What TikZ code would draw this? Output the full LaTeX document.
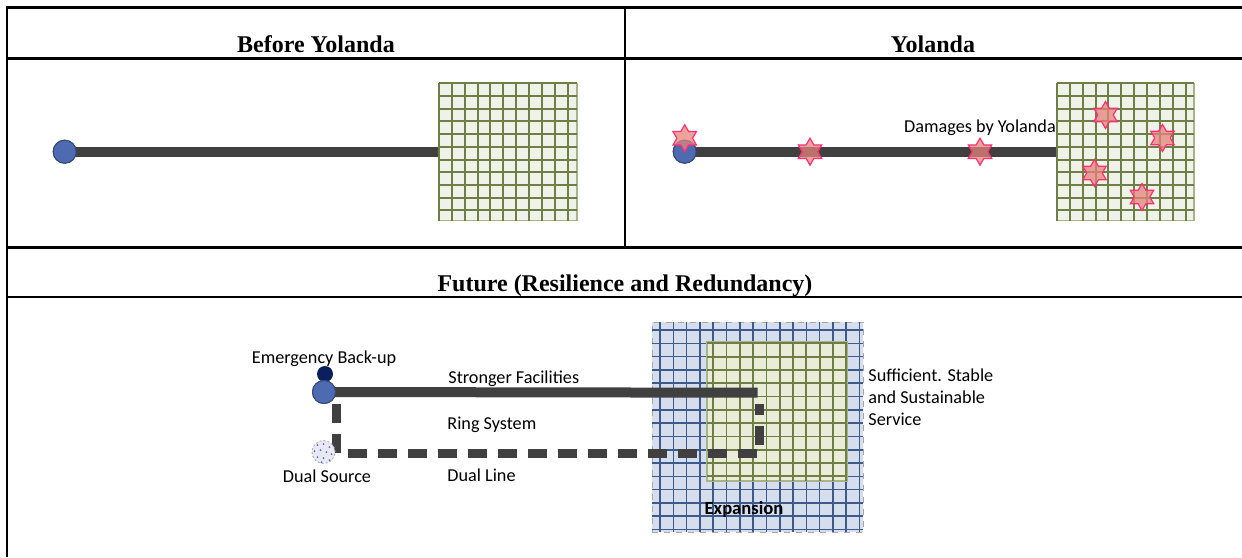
\documentclass[tikz,border=0pt]{standalone}
\usepackage{fontspec}
\setmainfont{Liberation Serif}
\newfontfamily\carl{Carlito}
\usetikzlibrary{shapes.geometric,calc}
\definecolor{powerline}{HTML}{404040}
\definecolor{srcblue}{HTML}{4E6AB0}
\definecolor{srcedge}{HTML}{34487A}
\definecolor{navy}{HTML}{0B1F5C}
\definecolor{gfill}{HTML}{EFF2E8}
\definecolor{gline}{HTML}{6E7E45}
\definecolor{gedge}{HTML}{A9B38A}
\definecolor{bfill}{HTML}{D6DDEC}
\definecolor{bline}{HTML}{3D5B8A}
\definecolor{ifill}{HTML}{EEF1D2}
\definecolor{starfill}{HTML}{E5837C}
\definecolor{starline}{HTML}{FF2F73}
\definecolor{dualfill}{HTML}{E9E9F3}
\definecolor{dualdot}{HTML}{5A6AB8}
\tikzset{
  rule/.style={line width=1.2pt, black},
  hdr/.style={font=\fontsize{12}{14}\selectfont\bfseries, inner sep=0pt},
  lbl/.style={font=\carl\fontsize{9.1}{11}\selectfont, inner sep=0pt},
  power/.style={line width=5pt, powerline},
  ring/.style={line width=4.5pt, powerline, dash pattern=on 9.5pt off 5.5pt},
  src/.style={circle, fill=srcblue, draw=srcedge, line width=0.5pt, inner sep=0pt, minimum size=11.5pt},
  gbox/.style={rectangle, fill=gfill, draw=gedge, line width=0.6pt, inner sep=0pt},
  gl/.style={gline, line width=1pt},
  bl/.style={bline, line width=0.8pt},
  dmgpath/.style={fill=starfill, fill opacity=0.75, draw=starline, line width=0.6pt, line join=miter},
}
\newcommand\dmgstar[1]{%
  \draw[dmgpath, shift={(#1)}] (90:13.5) -- (120:7.8) -- (150:13.5) -- (180:7.8) -- (210:13.5)
    -- (240:7.8) -- (270:13.5) -- (300:7.8) -- (330:13.5) -- (0:7.8) -- (30:13.5) -- (60:7.8) -- cycle;}
\begin{document}
\begin{tikzpicture}[x=0.5pt,y=-0.5pt]
\useasboundingbox (0,0) rectangle (1242,557);
% table rules
\draw[rule] (7,6.9) -- (7,557);
\draw[rule] (6.4,7.5) -- (1242,7.5);
\draw[rule] (7,58.3) -- (1242,58.3);
\draw[rule] (7,247.3) -- (1242,247.3);
\draw[rule] (7,296.7) -- (1242,296.7);
\draw[rule] (625,7.5) -- (625,247.3);
% headers
\node[hdr, anchor=base] (h1) at (316,52.5) {Before Yolanda};
\node[hdr, anchor=base] (h2) at (933,52.5) {Yolanda};
\node[hdr, anchor=base] (h3) at (625,291) {Future (Resilience and Redundancy)};

% ---------- Before Yolanda ----------
\node[gbox, minimum width=69pt, minimum height=68.7pt] (g1) at (508,151.9) {};
\foreach \k in {0,...,10} {
  \draw[gl] ({439+12.85*\k},83.3) -- ({439+12.85*\k},220.5);
  \draw[gl] (439,{83.3+12.7*\k}) -- (577,{83.3+12.7*\k});
}
\node[src] (b1) at (64.7,151.7) {};
\draw[power] (b1.center) -- (g1.west |- b1.center);
\node[src] at (b1) {};

% ---------- Yolanda ----------
\node[gbox, minimum width=68.5pt, minimum height=68.7pt] (g2) at (1125.5,151.9) {};
\foreach \k in {0,...,10} {
  \draw[gl] ({1057+12.85*\k},83.3) -- ({1057+12.85*\k},220.5);
  \draw[gl] (1057,{83.3+12.7*\k}) -- (1194,{83.3+12.7*\k});
}
\node[src] (b2) at (684.7,151.7) {};
\draw[power] (b2.center) -- (g2.west |- b2.center);
\node[src] at (b2) {};
\node[lbl, anchor=base] (dmgl) at (980,132.7) {Damages by Yolanda};
\coordinate (s1) at (684.7,138.3);
\coordinate (s2) at (810,151.7);
\coordinate (s3) at (980,151.7);
\coordinate (s4) at (1105.5,115);
\coordinate (s5) at (1162.5,138);
\coordinate (s6) at (1094.5,173);
\coordinate (s7) at (1142,197);
\foreach \s in {s1,s2,s3,s4,s5,s6,s7} {\dmgstar{\s}}

% ---------- Future ----------
\node[rectangle, fill=bfill, draw=gray!70, dashed, line width=0.5pt, inner sep=0pt,
  minimum width=105.5pt, minimum height=105pt] (exp) at (757.5,427) {};
\foreach \k in {0,...,15} {
  \draw[bl] ({660+13.3*\k},322.3) -- ({660+13.3*\k},531.7);
  \draw[bl] (652.3,{330+13.3*\k}) -- (862.7,{330+13.3*\k});
}
\node[rectangle, fill=ifill, fill opacity=0.8, draw=gedge, line width=0.6pt, inner sep=0pt,
  minimum width=70pt, minimum height=69.5pt] (inner) at (777,411.5) {};
\begin{scope}
  \clip (707,342) rectangle (847,481);
  \foreach \k in {0,...,15} {
    \draw[gl, line width=0.9pt] ({660+13.3*\k},342) -- ({660+13.3*\k},481);
    \draw[gl, line width=0.9pt] (707,{330+13.3*\k}) -- (847,{330+13.3*\k});
  }
\end{scope}
\node[lbl, font=\carl\fontsize{9.3}{11}\selectfont\bfseries, anchor=base] (expl) at (744,514) {Expansion};

\coordinate (sfend) at (757.7,392.7);
\coordinate (rtl) at (336.5,404);
\coordinate (rbl) at (336.5,453);
\coordinate (rbr) at (759,453);
\coordinate (rtr) at (759,404);
\node[circle, fill=navy, inner sep=0pt, minimum size=8pt] (emg) at (325,374) {};
\node[src] (b3) at (324,392) {};
\draw[power] (b3.center) -- (sfend);
\draw[ring] (rtl) -- (rbl) -- (rbr) -- (rtr);
\node[src] at (b3) {};
\node[circle, fill=dualfill, draw=gray!60, dash pattern=on 1pt off 1pt, line width=0.5pt,
  inner sep=0pt, minimum size=11.5pt] (dual) at (323.5,452) {};
\foreach \dx/\dy in {-6/-7,0/-8,6/-5,-9/-1,-3/-2,3/0,8/2,-6/5,0/6,6/8,-2/10}
  \fill[dualdot] ($(dual.center)+(\dx,\dy)$) circle[radius=0.5pt];

\node[lbl, anchor=base] (emgl) at (324,363) {Emergency Back-up};
\node[lbl, anchor=base west] (sfl) at (448,383) {Stronger Facilities};
\node[lbl, anchor=base west] (rsl) at (447,429) {Ring System};
\node[lbl, anchor=base] (dsl) at (327,482) {Dual Source};
\node[lbl, anchor=base west] (dll) at (447,481) {Dual Line};
\node[lbl, anchor=base west] (ss1) at (868,381) {Sufficient. Stable};
\node[lbl, anchor=base west] (ss2) at (868,403) {and Sustainable};
\node[lbl, anchor=base west] (ss3) at (868,425) {Service};
\end{tikzpicture}
\end{document}
